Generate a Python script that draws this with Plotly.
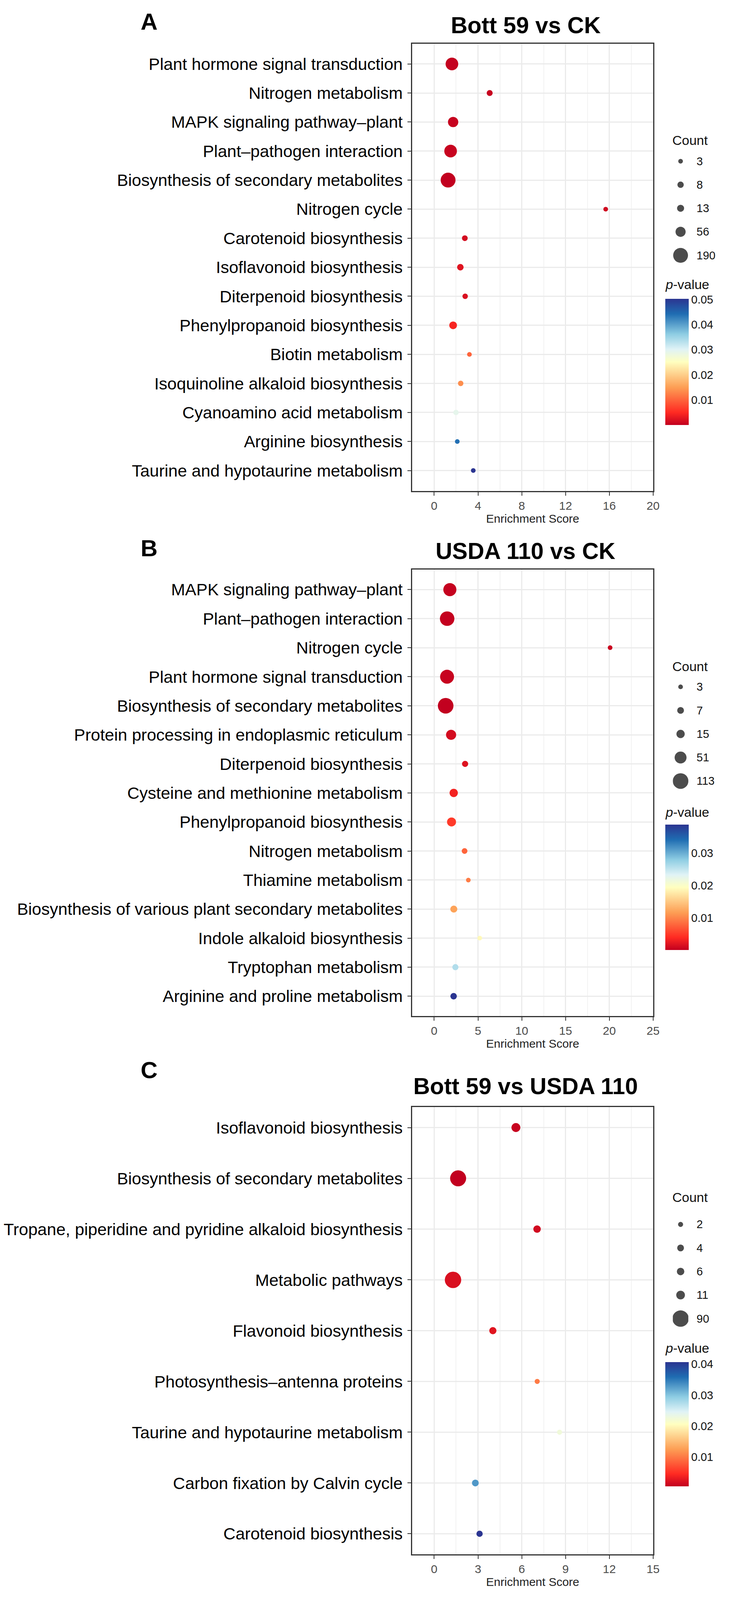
import plotly.graph_objects as go

W, H = 1884, 4179
FONT = "Liberation Sans, Arial, sans-serif"

# ---------------- data ----------------
# A: Bott 59 vs CK
a_terms = ["Plant hormone signal transduction", "Nitrogen metabolism",
           "MAPK signaling pathway\u2013plant", "Plant\u2013pathogen interaction",
           "Biosynthesis of secondary metabolites", "Nitrogen cycle",
           "Carotenoid biosynthesis", "Isoflavonoid biosynthesis",
           "Diterpenoid biosynthesis", "Phenylpropanoid biosynthesis",
           "Biotin metabolism", "Isoquinoline alkaloid biosynthesis",
           "Cyanoamino acid metabolism", "Arginine biosynthesis",
           "Taurine and hypotaurine metabolism"]
a_score = [1.62, 5.07, 1.73, 1.50, 1.27, 15.67, 2.80, 2.39, 2.83, 1.73, 3.22, 2.42, 1.99, 2.11, 3.57]
a_count = [118, 6, 60, 118, 190, 3, 5, 9, 4, 20, 3, 4, 4, 3, 3]
a_pval = [0.0003, 0.0005, 0.0004, 0.0005, 0.0001, 0.0012, 0.0015, 0.0025, 0.0020,
          0.0045, 0.0101, 0.0137, 0.0293, 0.0440, 0.0503]
a_breaks = [3, 8, 13, 56, 190]
a_pticks = [0.01, 0.02, 0.03, 0.04, 0.05]

# B: USDA 110 vs CK
b_terms = ["MAPK signaling pathway\u2013plant", "Plant\u2013pathogen interaction",
           "Nitrogen cycle", "Plant hormone signal transduction",
           "Biosynthesis of secondary metabolites",
           "Protein processing in endoplasmic reticulum",
           "Diterpenoid biosynthesis", "Cysteine and methionine metabolism",
           "Phenylpropanoid biosynthesis", "Nitrogen metabolism",
           "Thiamine metabolism",
           "Biosynthesis of various plant secondary metabolites",
           "Indole alkaloid biosynthesis", "Tryptophan metabolism",
           "Arginine and proline metabolism"]
b_score = [1.79, 1.48, 20.09, 1.47, 1.31, 1.93, 3.53, 2.23, 1.98, 3.47, 3.90, 2.24, 5.20, 2.42, 2.22]
b_count = [68, 92, 3, 82, 113, 30, 5, 15, 20, 4, 3, 8, 3, 5, 6]
b_pval = [0.0003, 0.0002, 0.0006, 0.0004, 0.0001, 0.0012, 0.0018, 0.0032, 0.0050,
          0.0078, 0.0094, 0.0120, 0.0190, 0.0260, 0.0388]
b_breaks = [3, 7, 15, 51, 113]
b_pticks = [0.01, 0.02, 0.03]

# C: Bott 59 vs USDA 110
c_terms = ["Isoflavonoid biosynthesis", "Biosynthesis of secondary metabolites",
           "Tropane, piperidine and pyridine alkaloid biosynthesis",
           "Metabolic pathways", "Flavonoid biosynthesis",
           "Photosynthesis\u2013antenna proteins",
           "Taurine and hypotaurine metabolism",
           "Carbon fixation by Calvin cycle", "Carotenoid biosynthesis"]
c_score = [5.60, 1.64, 7.05, 1.29, 4.02, 7.06, 8.59, 2.82, 3.11]
c_count = [12, 84, 6, 90, 5, 2, 2, 4, 3]
c_pval = [0.0008, 0.0005, 0.0015, 0.0020, 0.0025, 0.0100, 0.0225, 0.0330, 0.0406]
c_breaks = [2, 4, 6, 11, 90]
c_pticks = [0.01, 0.02, 0.03, 0.04]

# colour ramp of the p-value scale (low = red, high = blue)
p_colors = [[0.0, "#C2001F"], [0.10, "#FF2A22"], [0.30, "#FD9F55"],
            [0.50, "#FFFFC0"], [0.60, "#E0F3F6"], [0.72, "#8ECDE3"],
            [0.88, "#1F6DB2"], [1.0, "#2B3591"]]

# ---------------- layout per panel (pixels) ----------------
panels = [
    dict(letter="A", title="Bott 59 vs CK", terms=a_terms, score=a_score, count=a_count,
         pval=a_pval, breaks=a_breaks, pticks=a_pticks, xr=[-2, 20], dt=4,
         top=114, bot=1282, pad=53, ttl=66, let=57, dmin=12, dmax=38,
         cnt=366, key0=421, ptl=743, bar=780, blen=330),
    dict(letter="B", title="USDA 110 vs CK", terms=b_terms, score=b_score, count=b_count,
         pval=b_pval, breaks=b_breaks, pticks=b_pticks, xr=[-2.5, 25], dt=5,
         top=1488, bot=2654, pad=52, ttl=1440, let=1432, dmin=12, dmax=40,
         cnt=1741, key0=1794, ptl=2121, bar=2154, blen=327),
    dict(letter="C", title="Bott 59 vs USDA 110", terms=c_terms, score=c_score, count=c_count,
         pval=c_pval, breaks=c_breaks, pticks=c_pticks, xr=[-1.5, 15], dt=3,
         top=2891, bot=4060, pad=54, ttl=2837, let=2795, dmin=13, dmax=42,
         cnt=3127, key0=3198, ptl=3521, bar=3558, blen=324),
]
X0, X1 = 1065, 1687
KEY_STEP = 61.5


def px(v):
    return v / W


def py(v):
    return 1 - v / H


def dot_size(vals, lo, hi, dmin, dmax):
    # area scale, like ggplot's scale_size
    return [dmin + (dmax - dmin) * ((v - lo) / (hi - lo)) ** 0.5 for v in vals]


fig = go.Figure()
annotations = []
lay = {}

for i, p in enumerate(panels):
    k = i + 1
    lk = i + 4
    sx = "" if k == 1 else str(k)
    n = len(p["terms"])
    step = (p["bot"] - p["top"] - 2 * p["pad"]) / (n - 1)
    pu = p["pad"] / step
    lo, hi = min(p["count"]), max(p["count"])

    fig.add_trace(go.Scatter(
        x=p["score"], y=p["terms"], mode="markers", showlegend=False,
        xaxis="x" + sx, yaxis="y" + sx,
        marker=dict(size=dot_size(p["count"], lo, hi, p["dmin"], p["dmax"]),
                    color=p["pval"], coloraxis="coloraxis" + sx, line=dict(width=0), opacity=1),
        customdata=p["count"],
        hovertemplate="%{y}<br>Enrichment Score: %{x}<br>Count: %{customdata}<br>p-value: %{marker.color}<extra></extra>",
    ))

    lay["xaxis" + sx] = dict(
        domain=[px(X0), px(X1)], anchor="y" + sx, range=p["xr"], tick0=0, dtick=p["dt"],
        showgrid=True, gridcolor="#EBEBEB", gridwidth=2.5, zeroline=False,
        minor=dict(dtick=p["dt"] / 2, tick0=0, showgrid=True, gridcolor="#F2F2F2", gridwidth=1.5),
        showline=True, mirror=True, linecolor="#333333", linewidth=3,
        ticks="outside", ticklen=9, tickwidth=2, tickcolor="#333333", ticklabelstandoff=0,
        tickfont=dict(family=FONT, size=30, color="#4D4D4D"),
        title=dict(text="Enrichment Score", standoff=4, font=dict(family=FONT, size=30, color="#222222")),
    )
    lay["yaxis" + sx] = dict(
        domain=[py(p["bot"]), py(p["top"])], anchor="x" + sx, type="category",
        categoryorder="array", categoryarray=p["terms"], range=[n - 1 + pu, -pu],
        showgrid=True, gridcolor="#EBEBEB", gridwidth=2.5, zeroline=False,
        showline=True, mirror=True, linecolor="#333333", linewidth=3,
        ticks="outside", ticklen=9, tickwidth=2, tickcolor="#333333", ticklabelstandoff=4,
        tickfont=dict(family=FONT, size=43, color="#000000"),
    )
    lay["coloraxis" + sx] = dict(
        cmin=min(p["pval"]), cmax=max(p["pval"]), colorscale=p_colors,
        colorbar=dict(x=px(1719), xanchor="left", xpad=0, y=py(p["bar"]), yanchor="top", ypad=0,
                      len=p["blen"] / H, lenmode="fraction", thickness=60, outlinewidth=0,
                      tickvals=p["pticks"], ticks="", ticklabelposition="outside",
                      tickfont=dict(family=FONT, size=29, color="#111111")),
    )

    # size legend: keys on a hidden axis, one row per break
    nb = len(p["breaks"])
    kt = p["key0"] - KEY_STEP / 2
    kb = p["key0"] + (nb - 1) * KEY_STEP + KEY_STEP / 2
    fig.add_trace(go.Scatter(
        x=[0] * nb, y=list(range(nb)), mode="markers", showlegend=False, hoverinfo="skip",
        xaxis="x%d" % lk, yaxis="y%d" % lk,
        marker=dict(size=dot_size(p["breaks"], lo, hi, p["dmin"], p["dmax"]), color="black", line=dict(width=0)),
    ))
    lay["xaxis%d" % lk] = dict(domain=[px(1738), px(1778)], range=[-1, 1], visible=False,
                               anchor="y%d" % lk, fixedrange=True)
    lay["yaxis%d" % lk] = dict(domain=[py(kb), py(kt)], range=[nb - 0.5, -0.5], visible=False,
                               anchor="x%d" % lk, fixedrange=True)
    for j, b in enumerate(p["breaks"]):
        annotations.append(dict(text=str(b), x=px(1797), xref="paper", y=j, yref="y%d" % lk,
                                xanchor="left", yanchor="middle", showarrow=False,
                                font=dict(family=FONT, size=29, color="#111111")))
    annotations.append(dict(text="Count", x=px(1735), xref="paper", y=py(p["cnt"]), yref="paper",
                            xanchor="left", yanchor="middle", showarrow=False,
                            font=dict(family=FONT, size=34, color="#111111")))
    annotations.append(dict(text="<i>p</i>-value", x=px(1716), xref="paper", y=py(p["ptl"]), yref="paper",
                            xanchor="left", yanchor="middle", showarrow=False,
                            font=dict(family=FONT, size=34, color="#111111")))
    # panel title and letter
    annotations.append(dict(text="<b>%s</b>" % p["title"], x=px(1358), xref="paper", y=py(p["ttl"]),
                            yref="paper", xanchor="center", yanchor="middle", showarrow=False,
                            font=dict(family=FONT, size=59, color="#000000")))
    annotations.append(dict(text="<b>%s</b>" % p["letter"], x=px(385), xref="paper", y=py(p["let"]),
                            yref="paper", xanchor="center", yanchor="middle", showarrow=False,
                            font=dict(family=FONT, size=60, color="#000000")))

fig.update_layout(
    width=W, height=H, margin=dict(l=0, r=0, t=0, b=0),
    paper_bgcolor="white", plot_bgcolor="white",
    font=dict(family=FONT), annotations=annotations, **lay,
)

# drop the page margin and fit the figure to the visible window
fit_js = """
document.body.style.margin = '0px';
document.documentElement.style.overflow = 'hidden';
var gd = document.getElementById('{plot_id}');
var vw = window.innerWidth, vh = window.innerHeight;
if (vw > 1000 && vh > 2000 && (vw < %d || vh < %d)) {
    Plotly.relayout(gd, {width: Math.min(vw, %d), height: Math.min(vh, %d)});
}
""" % (W, H, W, H)

fig.write_html("out.html", config={"displayModeBar": False}, post_script=fit_js)
